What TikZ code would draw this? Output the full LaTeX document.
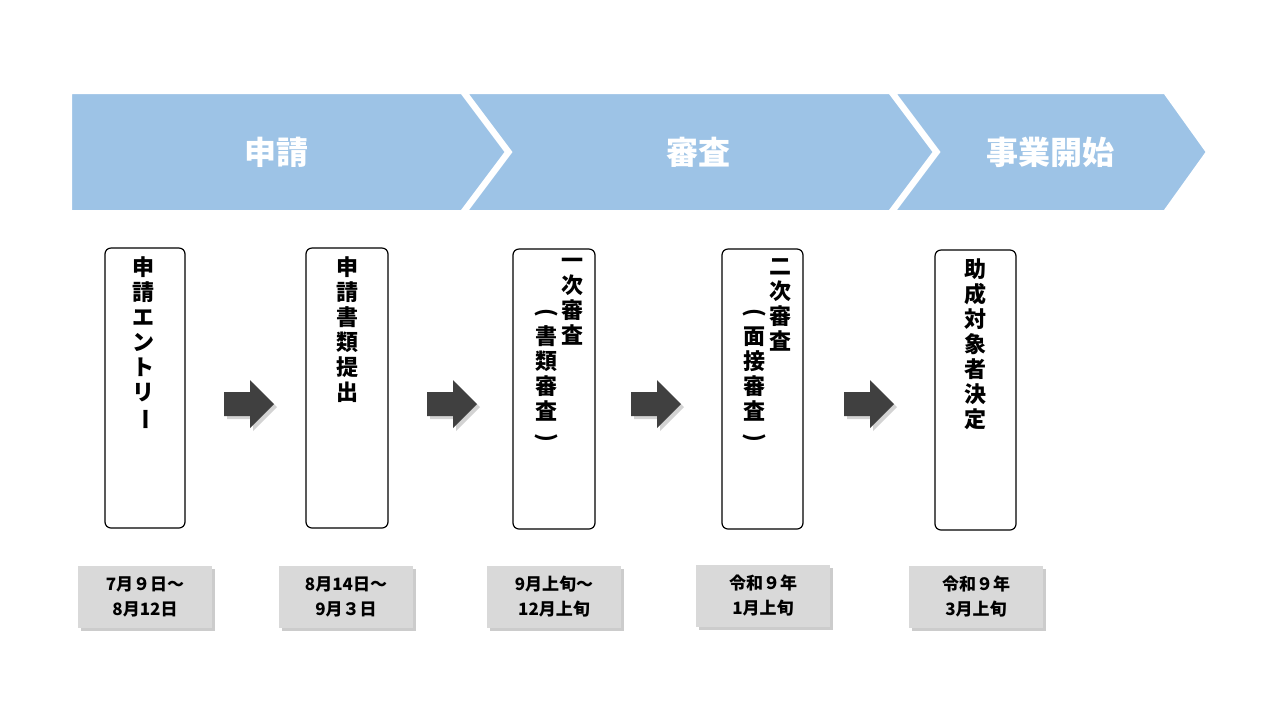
\documentclass[tikz,border=0pt]{standalone}
\usepackage{fontspec}
\setmainfont{Noto Sans CJK JP}
\usetikzlibrary{shadows}
\definecolor{bandblue}{HTML}{9DC3E6}
\definecolor{arrowgray}{HTML}{404040}
\definecolor{dategray}{HTML}{D9D9D9}
\newcommand{\vpar}[1]{\rotatebox[origin=c]{-90}{#1}}
\tikzset{
  band/.style={fill=bandblue, draw=white, line width=2pt, line join=miter},
  stage/.style={draw=black, rounded corners=3pt, line width=0.6pt},
  col/.style={anchor=north, align=center, inner sep=0pt, font=\bfseries\fontsize{11}{12.5}\selectfont},
  flow/.style={fill=arrowgray, draw=none, drop shadow={opacity=0.35, shadow xshift=1.5pt, shadow yshift=-1.5pt}},
  date/.style={fill=dategray, minimum width=67pt, minimum height=31pt, align=center, inner sep=0pt,
    font=\bfseries\fontsize{8.5}{12.5}\selectfont,
    drop shadow={opacity=0.4, shadow xshift=1.5pt, shadow yshift=-1.5pt}},
  head/.style={text=white, font=\bfseries\fontsize{16}{18}\selectfont}
}
\begin{document}
\begin{tikzpicture}[x=0.5pt, y=-0.5pt]
		\useasboundingbox (0,0) rectangle (1280,720);
		% phase band
		\draw[band] (70,92) -- (462,92) -- (507,152) -- (462,212) -- (70,212) -- cycle;
		\draw[band] (465,92) -- (890,92) -- (935,152) -- (890,212) -- (465,212) -- (510,152) -- cycle;
		\draw[band] (893,92) -- (1165,92) -- (1208,152) -- (1165,212) -- (893,212) -- (938,152) -- cycle;
		\node[head] (apply) at (276,152) {申請};
		\node[head] (review) at (698,152) {審査};
		\node[head] (start) at (1050,152) {事業開始};

		% stages
		\draw[stage] (105,248) rectangle (185,528);
		\draw[stage] (306,248) rectangle (388,528);
		\draw[stage] (513,249) rectangle (595,529);
		\draw[stage] (722,249) rectangle (803,529);
		\draw[stage] (935,250) rectangle (1016,530);
		\node[col] (entry) at (143,256) {申\\請\\エ\\ン\\ト\\リ\\\vpar{ー}};
		\node[col] (submit) at (347,256) {申\\請\\書\\類\\提\\出};
		\node[col] (first) at (572,258) {一\\次\\審\\査};
		\node[col] (firstsub) at (546,308) {\vpar{(}\\書\\類\\審\\査\\\vpar{)}};
		\node[col] (second) at (780,258) {二\\次\\審\\査};
		\node[col] (secondsub) at (754,308) {\vpar{(}\\面\\接\\審\\査\\\vpar{)}};
		\node[col] (decide) at (975,258) {助\\成\\対\\象\\者\\決\\定};

		% arrows between stages
		\foreach \ax in {224,427,631,844}
			\fill[flow] (\ax,392) -- (\ax+26,392) -- (\ax+26,380) -- (\ax+50,404) -- (\ax+26,428) -- (\ax+26,416) -- (\ax,416) -- cycle;

		% dates
		\node[date] (d1) at (145,597) {7月９日～\\8月12日};
		\node[date] (d2) at (346,597) {8月14日～\\9月３日};
		\node[date] (d3) at (554,597) {9月上旬～\\12月上旬};
		\node[date] (d4) at (763,596) {令和９年\\1月上旬};
		\node[date] (d5) at (976,597) {令和９年\\3月上旬};
	\end{tikzpicture}
\end{document}
